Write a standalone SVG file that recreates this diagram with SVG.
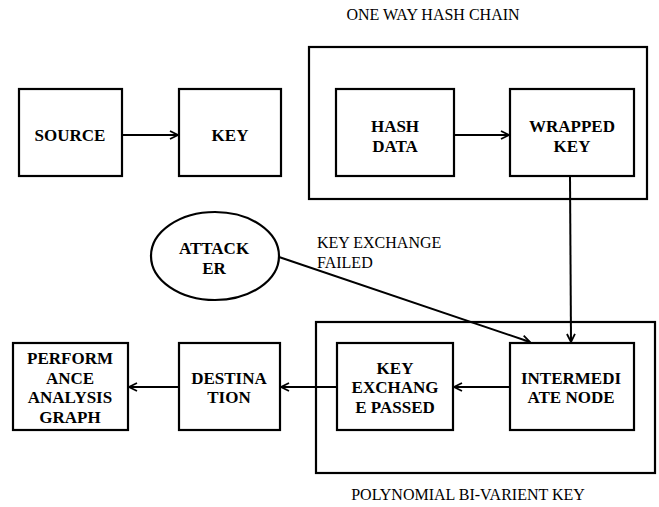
<svg xmlns="http://www.w3.org/2000/svg" width="659" height="507" viewBox="0 0 659 507">
  <style>
    .box { fill: #ffffff; stroke: #000000; stroke-width: 2.2; }
    .group { fill: none; stroke: #000000; stroke-width: 2.2; }
    .lbl { font-family: "Liberation Serif", "Times New Roman", serif; font-size: 17px; font-weight: bold; text-anchor: middle; fill: #000000; }
    .cap { font-family: "Liberation Serif", "Times New Roman", serif; font-size: 16px; fill: #000000; }
    .edge { fill: none; stroke: #000000; stroke-width: 2; }
  </style>
  <defs>
    <marker id="arrow" viewBox="0 0 10 10" refX="9" refY="5" markerWidth="10" markerHeight="10" markerUnits="userSpaceOnUse" orient="auto">
      <path d="M1,1 L9,5 L1,9" fill="none" stroke="#000000" stroke-width="1.8"/>
    </marker>
  </defs>
  <rect width="659" height="507" fill="#ffffff"/>

  <!-- grouping frames -->
  <g id="one-way-hash-chain">
    <rect class="group" x="309" y="47" width="338" height="152"/>
    <text class="cap" x="433" y="20" text-anchor="middle">ONE WAY HASH CHAIN</text>
  </g>
  <g id="polynomial-bi-varient-key">
    <rect class="group" x="316" y="322" width="339" height="151"/>
    <text class="cap" x="468" y="500" text-anchor="middle">POLYNOMIAL BI-VARIENT KEY</text>
  </g>

  <!-- connectors -->
  <g id="connectors">
    <line class="edge" x1="122" y1="135" x2="178" y2="135" marker-end="url(#arrow)"/>
    <line class="edge" x1="454" y1="135" x2="509" y2="135" marker-end="url(#arrow)"/>
    <line class="edge" x1="570" y1="176" x2="571" y2="342" marker-end="url(#arrow)"/>
    <line class="edge" x1="279" y1="257" x2="530" y2="342" marker-end="url(#arrow)"/>
    <line class="edge" x1="510" y1="387" x2="454" y2="387" marker-end="url(#arrow)"/>
    <line class="edge" x1="337" y1="387" x2="281" y2="387" marker-end="url(#arrow)"/>
    <line class="edge" x1="179" y1="387" x2="129" y2="387" marker-end="url(#arrow)"/>
    <text class="cap" x="317" y="248">KEY EXCHANGE</text>
    <text class="cap" x="317" y="268">FAILED</text>
  </g>

  <!-- nodes -->
  <g id="source">
    <rect class="box" x="19" y="89" width="103" height="87"/>
    <text class="lbl" x="70" y="141">SOURCE</text>
  </g>
  <g id="key">
    <rect class="box" x="179" y="89" width="102" height="87"/>
    <text class="lbl" x="230" y="141">KEY</text>
  </g>
  <g id="hash-data">
    <rect class="box" x="336" y="89" width="118" height="87"/>
    <text class="lbl" x="395" y="132">HASH</text>
    <text class="lbl" x="395" y="152">DATA</text>
  </g>
  <g id="wrapped-key">
    <rect class="box" x="510" y="89" width="124" height="87"/>
    <text class="lbl" x="572" y="132">WRAPPED</text>
    <text class="lbl" x="572" y="152">KEY</text>
  </g>
  <g id="attacker">
    <ellipse class="box" cx="215" cy="256" rx="64" ry="44"/>
    <text class="lbl" x="214" y="254">ATTACK</text>
    <text class="lbl" x="214" y="274">ER</text>
  </g>
  <g id="intermediate-node">
    <rect class="box" x="510" y="343" width="124" height="87"/>
    <text class="lbl" x="571" y="384">INTERMEDI</text>
    <text class="lbl" x="571" y="403">ATE NODE</text>
  </g>
  <g id="key-exchange-passed">
    <rect class="box" x="337" y="343" width="116" height="87"/>
    <text class="lbl" x="395" y="374">KEY</text>
    <text class="lbl" x="395" y="393">EXCHANG</text>
    <text class="lbl" x="395" y="413">E PASSED</text>
  </g>
  <g id="destination">
    <rect class="box" x="179" y="343" width="101" height="87"/>
    <text class="lbl" x="229" y="384">DESTINA</text>
    <text class="lbl" x="229" y="403">TION</text>
  </g>
  <g id="performance-analysis-graph">
    <rect class="box" x="13" y="343" width="115" height="87"/>
    <text class="lbl" x="70" y="364">PERFORM</text>
    <text class="lbl" x="70" y="384">ANCE</text>
    <text class="lbl" x="70" y="403">ANALYSIS</text>
    <text class="lbl" x="70" y="423">GRAPH</text>
  </g>
</svg>
